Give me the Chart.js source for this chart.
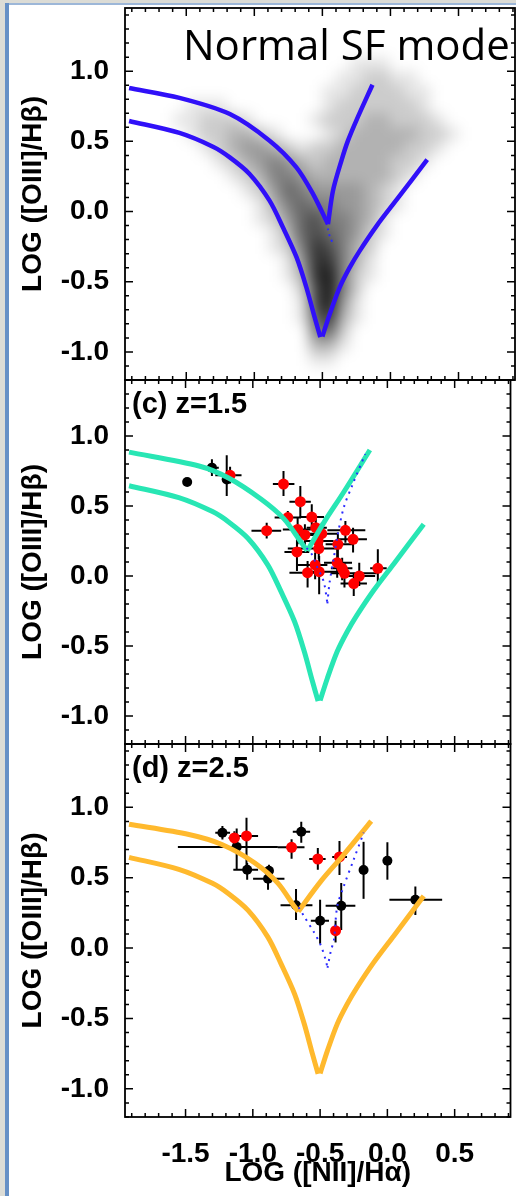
<!DOCTYPE html>
<html>
<head>
<meta charset="utf-8">
<title>BPT diagrams</title>
<script src="https://cdn.jsdelivr.net/npm/chart.js@4.4.1/dist/chart.umd.min.js"></script>
<style>
  html, body { margin: 0; padding: 0; background: #fff; }
  #page { position: relative; width: 516px; height: 1196px; overflow: hidden; background: #fff; }
  #page canvas { position: absolute; left: 0; top: 0; }
  .edge { position: absolute; }
</style>
</head>
<body>
<div id="page">
  <div class="edge" style="left:0;top:0;width:516px;height:3px;background:#dcdcd6"></div>
  <div class="edge" style="left:5px;top:3px;width:511px;height:2px;background:#9db7d8"></div>
  <div class="edge" style="left:0;top:0;width:5px;height:1196px;background:#dcdcd6"></div>
  <div class="edge" style="left:5px;top:3px;width:4px;height:1193px;background:#6690c6"></div>
  <canvas id="panelA" width="516" height="1196"></canvas>
  <canvas id="panelC" width="516" height="1196"></canvas>
  <canvas id="panelD" width="516" height="1196"></canvas>
</div>

<script>
// axes
const xRange = [-1.95, 0.915];
const yRangeA = [-1.2, 1.45];
const yRangeC = [-1.2, 1.4];
const yRangeD = [-1.2, 1.45];
const xTickValues = [-1.5, -1.0, -0.5, 0.0, 0.5];
const yTickValues = [-1.0, -0.5, 0.0, 0.5, 1.0];

// lower edge of the SF sequence (same in every panel), [x, y]
const lowerLeft = [[-1.92, 0.645], [-1.55, 0.56], [-1.30, 0.46], [-1.18, 0.386], [-1.035, 0.268], [-0.888, 0.078],
  [-0.79, -0.112], [-0.69, -0.325], [-0.618, -0.538], [-0.557, -0.752], [-0.515, -0.894]];
const lowerRight = [[-0.50, -0.89], [-0.446, -0.73], [-0.373, -0.54], [-0.30, -0.40], [-0.226, -0.28],
  [-0.10, -0.10], [0.05, 0.09], [0.27, 0.37]];

// upper edge, normal SF mode (z~0)
const upperLeftA = [[-1.92, 0.88], [-1.55, 0.81], [-1.18, 0.695], [-0.888, 0.505], [-0.691, 0.315], [-0.569, 0.126], [-0.459, -0.09]];
const upperRightA = [[-0.459, -0.09], [-0.422, 0.149], [-0.36, 0.363], [-0.312, 0.505], [-0.25, 0.65], [-0.132, 0.903]];
const dottedA = [[-0.46, -0.12], [-0.445, -0.18], [-0.415, -0.24]];

// upper edge, z=1.5
const upperLeftC = [[-1.92, 0.885], [-1.40, 0.786], [-1.18, 0.70], [-0.94, 0.55], [-0.77, 0.41], [-0.64, 0.24], [-0.595, 0.18]];
const upperRightC = [[-0.595, 0.18], [-0.47, 0.385], [-0.324, 0.60], [-0.13, 0.90]];
const dottedLeftC = [[-0.60, 0.20], [-0.557, 0.148], [-0.525, 0.07], [-0.495, 0.01], [-0.47, -0.05], [-0.446, -0.195]];
const dottedRightC = [[-0.446, -0.195], [-0.43, -0.05], [-0.40, 0.12], [-0.37, 0.29], [-0.324, 0.49], [-0.26, 0.65], [-0.165, 0.87]];

// upper edge, z=2.5
const upperLeftD = [[-1.92, 0.88], [-1.475, 0.807], [-1.23, 0.736], [-0.985, 0.605], [-0.814, 0.462], [-0.691, 0.295], [-0.662, 0.26]];
const upperRightD = [[-0.662, 0.26], [-0.495, 0.474], [-0.324, 0.664], [-0.12, 0.902]];
const dottedLeftD = [[-0.66, 0.29], [-0.618, 0.224], [-0.544, 0.11], [-0.495, 0.02], [-0.46, -0.08], [-0.445, -0.14]];
const dottedRightD = [[-0.445, -0.14], [-0.42, -0.02], [-0.397, 0.06], [-0.373, 0.295], [-0.324, 0.44], [-0.25, 0.63], [-0.176, 0.82]];

// galaxies: [x, y, xlo, xhi, ylo, yhi]
const z15Red = [
  [-1.169, 0.719, -1.279, -1.084, 0.66, 0.78], [-0.772, 0.657, -0.851, -0.691, 0.572, 0.750],
  [-0.647, 0.531, -0.728, -0.569, 0.429, 0.643], [-0.740, 0.417, -0.838, -0.642, 0.369, 0.464],
  [-0.562, 0.421, -0.655, -0.471, 0.334, 0.512], [-0.897, 0.324, -1.010, -0.789, 0.267, 0.381],
  [-0.667, 0.333, -0.777, -0.569, 0.226, 0.417], [-0.613, 0.293, -0.69, -0.53, 0.215, 0.37],
  [-0.532, 0.345, -0.60, -0.45, 0.26, 0.43], [-0.488, 0.302, -0.594, -0.373, 0.214, 0.381],
  [-0.515, 0.250, -0.62, -0.40, 0.18, 0.32], [-0.51, 0.196, -0.74, -0.37, 0.12, 0.26],
  [-0.672, 0.172, -0.765, -0.581, 0.036, 0.262], [-0.312, 0.326, -0.446, -0.164, 0.238, 0.393],
  [-0.255, 0.262, -0.361, -0.152, 0.167, 0.345], [-0.368, 0.226, -0.459, -0.251, 0.119, 0.310],
  [-0.537, 0.079, -0.667, -0.446, -0.023, 0.167], [-0.593, 0.024, -0.728, -0.471, -0.083, 0.107],
  [-0.507, 0.031, -0.606, -0.373, -0.131, 0.143], [-0.373, 0.095, -0.471, -0.263, -0.012, 0.203],
  [-0.336, 0.055, -0.42, -0.26, -0.03, 0.13], [-0.319, 0.019, -0.422, -0.079, -0.083, 0.095],
  [-0.209, 0.0, -0.324, -0.091, -0.071, 0.095], [-0.25, -0.054, -0.348, -0.152, -0.143, 0.024],
  [-0.071, 0.055, -0.128, -0.005, -0.048, 0.191]
];
const z15Black = [
  [-1.488, 0.671, -1.488, -1.488, 0.671, 0.671], [-1.304, 0.774, -1.365, -1.253, 0.714, 0.834],
  [-1.194, 0.69, -1.23, -1.16, 0.571, 0.862]
];
const z25Red = [
  [-1.137, 0.783, -1.18, -1.10, 0.74, 0.83], [-1.047, 0.797, -1.132, -0.961, 0.557, 0.926],
  [-0.712, 0.716, -0.815, -0.616, 0.635, 0.774], [-0.517, 0.633, -0.581, -0.459, 0.557, 0.712],
  [-0.356, 0.648, -0.41, -0.30, 0.52, 0.76], [-0.385, 0.124, -0.385, -0.385, 0.04, 0.195]
];
const z25Black = [
  [-1.226, 0.819, -1.279, -1.169, 0.771, 0.867], [-1.12, 0.719, -1.557, -0.814, 0.557, 0.85],
  [-1.042, 0.557, -1.145, -0.961, 0.486, 0.605], [-0.88, 0.55, -0.92, -0.85, 0.50, 0.593],
  [-0.887, 0.493, -0.998, -0.765, 0.414, 0.533], [-0.64, 0.826, -0.703, -0.574, 0.748, 0.898],
  [-0.679, 0.305, -0.794, -0.557, 0.2, 0.419], [-0.50, 0.194, -0.569, -0.434, 0.03, 0.343],
  [-0.343, 0.30, -0.459, -0.238, 0.129, 0.462], [-0.177, 0.555, -0.177, -0.177, 0.35, 0.755],
  [0.0, 0.621, 0.0, 0.0, 0.486, 0.752], [0.208, 0.343, 0.015, 0.407, 0.236, 0.438]
];

// SDSS galaxy density, 0.1 dex cells, darkness 0-9
// rows from y=1.1 downwards, columns from x=-1.9 rightwards
const densityLeft = -1.9, densityTop = 1.1, densityStep = 0.1;
const densityRows = [
  "000000000000000011100000",
  "000000000000000112211000",
  "000000000000001122221100",
  "000011100000001222222100",
  "000112221000012223322210",
  "000012233210001233333221",
  "000001234432122333332210",
  "000000123454323333322100",
  "000000012355433333321000",
  "000000001246544443210000",
  "000000000135655443210000",
  "000000000124675543100000",
  "000000000013676542100000",
  "000000000012587532000000",
  "000000000001488531000000",
  "000000000001389521000000",
  "000000000000279520000000",
  "000000000000179410000000",
  "000000000000168310000000",
  "000000000000056200000000",
  "000000000000033100000000",
  "000000000000011000000000"
];

const sansBold = '"Liberation Sans", Arial, Helvetica, sans-serif';
Chart.defaults.font.family = sansBold;
Chart.defaults.color = '#000';

const tickFont = { family: sansBold, weight: 'bold', size: 28 };
const titleFont = { family: sansBold, weight: 'bold', size: 28 };

// grey cloud of SDSS galaxies, blurred
const densityPlugin = {
  id: 'density',
  beforeDatasetsDraw(chart, args, opts) {
    if (!opts.rows) return;
    const {ctx, chartArea: a, scales: {x, y}} = chart;
    const off = document.createElement('canvas');
    off.width = chart.width;
    off.height = chart.height;
    const octx = off.getContext('2d');
    opts.rows.forEach((row, r) => {
      const yTop = densityTop - r * densityStep;
      for (let c = 0; c < row.length; c++) {
        const level = +row[c];
        if (!level) continue;
        const xLeft = densityLeft + c * densityStep;
        const px0 = Math.round(x.getPixelForValue(xLeft));
        const px1 = Math.round(x.getPixelForValue(xLeft + densityStep));
        const py0 = Math.round(y.getPixelForValue(yTop));
        const py1 = Math.round(y.getPixelForValue(yTop - densityStep));
        octx.fillStyle = 'rgba(0,0,0,' + (level / 10) + ')';
        octx.fillRect(px0, py0, px1 - px0, py1 - py0);
      }
    });
    ctx.save();
    ctx.beginPath();
    ctx.rect(a.left, a.top, a.right - a.left, a.bottom - a.top);
    ctx.clip();
    ctx.filter = 'blur(7px)';
    ctx.drawImage(off, 0, 0);
    ctx.restore();
  }
};

// error bars under the symbols
const errorBarPlugin = {
  id: 'errorBars',
  beforeDatasetsDraw(chart) {
    const {ctx, scales: {x, y}} = chart;
    ctx.save();
    ctx.strokeStyle = '#000';
    ctx.lineWidth = 2;
    chart.data.datasets.forEach(ds => {
      if (!ds.errorBars) return;
      ds.data.forEach(p => {
        ctx.beginPath();
        ctx.moveTo(x.getPixelForValue(p.xlo), y.getPixelForValue(p.y));
        ctx.lineTo(x.getPixelForValue(p.xhi), y.getPixelForValue(p.y));
        ctx.moveTo(x.getPixelForValue(p.x), y.getPixelForValue(p.ylo));
        ctx.lineTo(x.getPixelForValue(p.x), y.getPixelForValue(p.yhi));
        ctx.stroke();
      });
    });
    ctx.restore();
  }
};

// box with inward ticks on all four sides, plus panel text
const framePlugin = {
  id: 'frame',
  afterDatasetsDraw(chart, args, opts) {
    const {ctx, chartArea: a, scales: {x, y}} = chart;
    ctx.save();
    ctx.strokeStyle = '#000';
    ctx.lineWidth = 1.5;
    ctx.beginPath();
    for (let i = -19; i <= 9; i++) {
      const px = x.getPixelForValue(i / 10);
      const len = i % 5 === 0 ? 8 : 4;
      ctx.moveTo(px, a.bottom); ctx.lineTo(px, a.bottom - len);
      ctx.moveTo(px, a.top); ctx.lineTo(px, a.top + len);
    }
    for (let i = -12; i <= 14; i++) {
      const py = y.getPixelForValue(i / 10);
      const len = i % 5 === 0 ? 8 : 4;
      ctx.moveTo(a.left, py); ctx.lineTo(a.left + len, py);
      ctx.moveTo(a.right, py); ctx.lineTo(a.right - len, py);
    }
    ctx.stroke();
    ctx.lineWidth = 1.8;
    ctx.strokeRect(a.left, a.top, a.right - a.left, a.bottom - a.top);

    ctx.fillStyle = '#000';
    if (opts.title) {
      ctx.font = '42px "Open Sans"';
      ctx.textAlign = 'left';
      ctx.textBaseline = 'alphabetic';
      ctx.fillText(opts.title, 183, a.top + 52);
    }
    if (opts.label) {
      ctx.font = 'bold 29px ' + sansBold;
      ctx.textAlign = 'left';
      ctx.textBaseline = 'middle';
      ctx.fillText(opts.label, a.left + 7, a.top + 25);
    }
    ctx.restore();
  }
};

function curve(points, color, width, dash) {
  return {
    data: points.map(p => ({ x: p[0], y: p[1] })),
    showLine: true,
    borderColor: color,
    borderWidth: width,
    borderDash: dash || [],
    pointRadius: 0,
    tension: 0.3,
    order: 1
  };
}

function galaxies(rows, color, radius, order) {
  return {
    data: rows.map(r => ({ x: r[0], y: r[1], xlo: r[2], xhi: r[3], ylo: r[4], yhi: r[5] })),
    errorBars: true,
    pointRadius: radius,
    pointBackgroundColor: color,
    pointBorderWidth: 0,
    order: order
  };
}

function makePanel(id, yRange, top, bottom, showX, datasets, text) {
  return new Chart(document.getElementById(id), {
    type: 'scatter',
    data: { datasets: datasets },
    options: {
      responsive: false,
      animation: false,
      events: [],
      layout: { padding: { top: top, bottom: bottom, left: 0, right: 1 } },
      plugins: {
        legend: { display: false },
        tooltip: { enabled: false },
        density: { rows: text.rows },
        frame: { title: text.title, label: text.label }
      },
      scales: {
        x: {
          type: 'linear',
          min: xRange[0],
          max: xRange[1],
          display: showX,
          afterBuildTicks: s => { s.ticks = xTickValues.map(v => ({ value: v })); },
          afterFit: s => {
            if (showX) s.height = 79;
            s.paddingLeft = 0;
            s.paddingRight = 0;
          },
          grid: { display: false },
          border: { display: false },
          ticks: { padding: 12, font: tickFont, maxRotation: 0, autoSkip: false, callback: v => v.toFixed(1) },
          title: { display: true, text: 'LOG ([NII]/Hα)', font: titleFont, padding: { top: 0, bottom: 6 } }
        },
        y: {
          type: 'linear',
          min: yRange[0],
          max: yRange[1],
          afterBuildTicks: s => { s.ticks = yTickValues.map(v => ({ value: v })); },
          afterFit: s => {
            s.width = 125;
            s.paddingTop = 0;
            s.paddingBottom = 0;
          },
          grid: { display: false },
          border: { display: false },
          ticks: { padding: 8, font: tickFont, autoSkip: false, callback: v => v.toFixed(1) },
          title: { display: true, text: 'LOG ([OIII]/Hβ)', font: titleFont, padding: { top: 16, bottom: 0 } }
        }
      }
    },
    plugins: [densityPlugin, errorBarPlugin, framePlugin]
  });
}

const blue = '#3010f8', teal = '#28e6b4', orange = '#ffb92d', dotBlue = '#2b2bff';

// Normal SF mode
makePanel('panelA', yRangeA, 8, 816, false, [
  curve(upperLeftA, blue, 4.5),
  curve(upperRightA, blue, 4.5),
  curve(lowerLeft, blue, 4.5),
  curve(lowerRight, blue, 4.5),
  curve(dottedA, dotBlue, 2, [2, 4])
], { title: 'Normal SF mode', rows: densityRows });

// (c) z=1.5
makePanel('panelC', yRangeC, 380, 452, false, [
  curve(dottedLeftC, dotBlue, 2, [2, 5]),
  curve(dottedRightC, dotBlue, 2, [2, 5]),
  curve(upperLeftC, teal, 5),
  curve(upperRightC, teal, 5),
  curve(lowerLeft, teal, 5),
  curve(lowerRight, teal, 5),
  galaxies(z15Red, '#ff0000', 5.5, 2),
  galaxies(z15Black, '#000000', 5, 3)
], { label: '(c) z=1.5' });

// (d) z=2.5
makePanel('panelD', yRangeD, 744, 0, true, [
  curve(dottedLeftD, dotBlue, 2, [2, 5]),
  curve(dottedRightD, dotBlue, 2, [2, 5]),
  curve(upperLeftD, orange, 5),
  curve(upperRightD, orange, 5),
  curve(lowerLeft, orange, 5),
  curve(lowerRight, orange, 5),
  galaxies(z25Red, '#ff0000', 5.5, 2),
  galaxies(z25Black, '#000000', 5, 3)
], { label: '(d) z=2.5' });
</script>
</body>
</html>
